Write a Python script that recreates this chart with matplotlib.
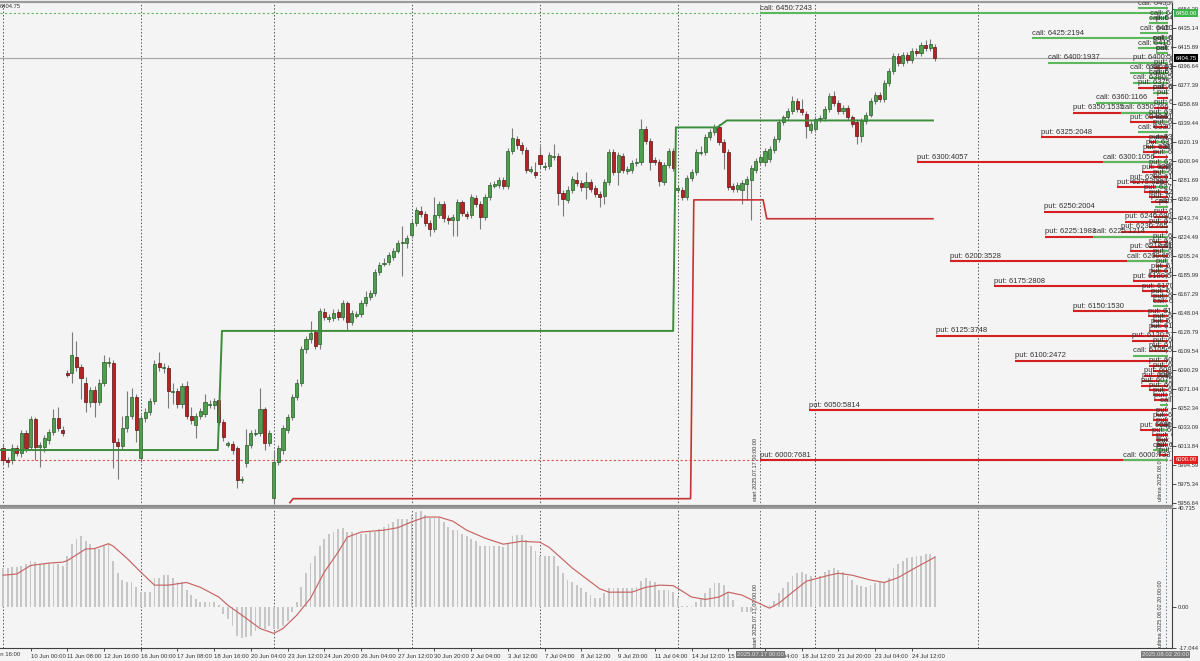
import matplotlib
matplotlib.use('Agg')
import matplotlib.pyplot as plt
import matplotlib.transforms as mtrans

plt.rcParams['font.family'] = ['Liberation Sans', 'DejaVu Sans']

# ---------------------------------------------------------------------------
# Data (4h candles, bar 0 = 9 Jun 00:00)
# ---------------------------------------------------------------------------
opens = [6012, 6000, 6000, 6012, 6007, 6027, 6013, 6041, 6014, 6013,
         6020, 6028, 6042, 6030, 6088, 6088, 6104, 6094, 6078, 6058,
         6070, 6058, 6078, 6098, 6098, 6018, 6014, 6032, 6044, 6063,
         6002, 6042, 6048, 6059, 6098, 6093, 6093, 6069, 6069, 6056,
         6074, 6044, 6035, 6044, 6046, 6056, 6055, 6060, 6038, 6016,
         6016, 6012, 5980, 5997, 6015, 6027, 6027, 6051, 6017, 5962,
         5998, 6010, 6030, 6043, 6063, 6078, 6112, 6122, 6129, 6117,
         6149, 6143, 6143, 6149, 6144, 6158, 6139, 6146, 6147, 6158,
         6164, 6168, 6189, 6198, 6199, 6204, 6211, 6219, 6219, 6227,
         6239, 6251, 6248, 6239, 6233, 6247, 6258, 6244, 6242, 6242,
         6260, 6248, 6247, 6264, 6258, 6245, 6265, 6277, 6277, 6282,
         6276, 6311, 6323, 6317, 6312, 6292, 6290, 6307, 6296, 6296,
         6306, 6306, 6269, 6262, 6272, 6282, 6279, 6275, 6280, 6274,
         6268, 6266, 6280, 6310, 6290, 6306, 6292, 6292, 6300, 6300,
         6333, 6321, 6302, 6300, 6280, 6297, 6311, 6273, 6272, 6265,
         6284, 6290, 6310, 6310, 6325, 6330, 6335, 6320, 6310, 6276,
         6273, 6272, 6278, 6282, 6292, 6300, 6300, 6303, 6312, 6323,
         6340, 6345, 6352, 6362, 6354, 6349, 6332, 6333, 6344, 6344,
         6354, 6367, 6360, 6352, 6355, 6345, 6340, 6326, 6341, 6348,
         6362, 6368, 6364, 6380, 6392, 6407, 6400, 6408, 6403, 6412,
         6410, 6418, 6415, 6416]
closes = [6000, 5998, 6012, 6007, 6027, 6012, 6041, 6013, 6015, 6022,
          6028, 6042, 6032, 6027, 6086, 6106, 6094, 6083, 6058, 6070,
          6058, 6078, 6099, 6098, 6018, 6014, 6032, 6044, 6063, 6030,
          6042, 6048, 6059, 6097, 6094, 6094, 6069, 6070, 6056, 6074,
          6044, 6040, 6044, 6049, 6058, 6056, 6059, 6038, 6023, 6016,
          6010, 5980, 5981, 6015, 6027, 6028, 6051, 6017, 6027, 5998,
          6012, 6032, 6043, 6063, 6078, 6112, 6122, 6128, 6115, 6150,
          6144, 6144, 6148, 6144, 6158, 6139, 6148, 6147, 6158, 6164,
          6168, 6189, 6196, 6199, 6206, 6211, 6219, 6220, 6224, 6239,
          6252, 6248, 6239, 6233, 6247, 6258, 6244, 6242, 6245, 6260,
          6249, 6246, 6265, 6258, 6245, 6265, 6277, 6278, 6282, 6276,
          6311, 6324, 6317, 6312, 6292, 6293, 6287, 6298, 6296, 6307,
          6307, 6269, 6263, 6272, 6283, 6279, 6275, 6280, 6273, 6268,
          6265, 6280, 6310, 6290, 6307, 6292, 6292, 6299, 6300, 6333,
          6321, 6300, 6300, 6281, 6297, 6311, 6294, 6274, 6265, 6284,
          6290, 6310, 6311, 6325, 6330, 6335, 6320, 6310, 6275, 6273,
          6277, 6279, 6283, 6294, 6301, 6305, 6311, 6313, 6323, 6340,
          6345, 6352, 6362, 6354, 6351, 6336, 6338, 6343, 6344, 6354,
          6367, 6360, 6352, 6355, 6345, 6338, 6326, 6341, 6348, 6362,
          6368, 6364, 6380, 6392, 6407, 6400, 6408, 6403, 6412, 6410,
          6418, 6415, 6419, 6405]
highs = [6016, 6003, 6016, 6015, 6030, 6030, 6044, 6043, 6018, 6025,
         6031, 6051, 6053, 6034, 6091, 6129, 6120, 6097, 6084, 6073,
         6074, 6082, 6106, 6104, 6101, 6022, 6044, 6069, 6072, 6066,
         6045, 6052, 6062, 6101, 6109, 6098, 6096, 6078, 6072, 6078,
         6080, 6053, 6047, 6052, 6066, 6060, 6062, 6072, 6041, 6019,
         6019, 6014, 5984, 6031, 6030, 6031, 6072, 6053, 6030, 6010,
         6015, 6035, 6046, 6066, 6082, 6115, 6125, 6140, 6131, 6153,
         6153, 6147, 6152, 6152, 6161, 6160, 6151, 6150, 6161, 6170,
         6171, 6192, 6199, 6203, 6209, 6214, 6222, 6236, 6227, 6242,
         6255, 6256, 6251, 6242, 6265, 6261, 6261, 6247, 6248, 6263,
         6262, 6251, 6268, 6267, 6261, 6268, 6280, 6281, 6285, 6285,
         6314, 6334, 6326, 6320, 6315, 6296, 6300, 6316, 6300, 6310,
         6318, 6309, 6272, 6276, 6286, 6290, 6282, 6290, 6283, 6277,
         6271, 6283, 6313, 6313, 6310, 6309, 6296, 6302, 6304, 6343,
         6336, 6324, 6305, 6303, 6300, 6314, 6314, 6277, 6275, 6287,
         6293, 6313, 6316, 6328, 6333, 6338, 6338, 6323, 6313, 6279,
         6280, 6282, 6286, 6297, 6304, 6308, 6314, 6316, 6326, 6343,
         6348, 6355, 6367, 6365, 6364, 6352, 6341, 6346, 6348, 6357,
         6370, 6372, 6363, 6358, 6358, 6348, 6343, 6344, 6351, 6365,
         6371, 6371, 6383, 6395, 6410, 6410, 6411, 6411, 6415, 6415,
         6421, 6423, 6424, 6419]
lows = [5996, 5993, 5996, 6004, 6003, 6008, 6010, 6000, 5993, 6008,
        6016, 6025, 6029, 6024, 6084, 6078, 6090, 6061, 6048, 6053,
        6043, 6055, 6074, 6094, 5992, 5981, 6010, 6028, 6041, 6018,
        5998, 6038, 6045, 6056, 6090, 6088, 6052, 6056, 6052, 6052,
        6041, 6036, 6022, 6041, 6043, 6052, 6051, 6035, 6019, 6013,
        6006, 5972, 5977, 5993, 6012, 6024, 6024, 6010, 6014, 5956,
        5995, 6006, 6027, 6040, 6060, 6075, 6108, 6118, 6112, 6112,
        6141, 6139, 6140, 6141, 6141, 6131, 6136, 6143, 6144, 6155,
        6161, 6165, 6186, 6195, 6196, 6201, 6208, 6185, 6214, 6224,
        6236, 6245, 6236, 6226, 6230, 6244, 6240, 6238, 6226, 6226,
        6246, 6243, 6244, 6255, 6233, 6242, 6262, 6274, 6274, 6273,
        6273, 6308, 6313, 6308, 6289, 6289, 6284, 6294, 6292, 6293,
        6302, 6257, 6246, 6259, 6269, 6276, 6271, 6263, 6270, 6265,
        6255, 6258, 6277, 6287, 6277, 6289, 6288, 6289, 6296, 6297,
        6318, 6292, 6297, 6276, 6277, 6294, 6291, 6270, 6262, 6262,
        6281, 6287, 6307, 6307, 6322, 6327, 6317, 6293, 6272, 6270,
        6270, 6258, 6262, 6242, 6289, 6297, 6296, 6300, 6309, 6320,
        6337, 6342, 6349, 6351, 6348, 6324, 6329, 6330, 6340, 6341,
        6351, 6357, 6349, 6349, 6342, 6335, 6318, 6320, 6338, 6345,
        6359, 6361, 6361, 6377, 6389, 6397, 6397, 6400, 6400, 6407,
        6407, 6412, 6412, 6402]

macd_hist = [16, 16, 16.5, 16.5, 17, 17.5, 19, 18.5, 17.5, 17.5,
             18, 17.5, 17.5, 17, 21, 26, 28, 29, 27, 26,
             24, 24, 25, 26, 19, 14, 11, 10, 10, 8,
             6, 6, 6, 12, 12, 13, 13, 12, 10, 10,
             7, 5, 3, 2, 2, 2, 2, 0.5, -3, -5,
             -8, -12, -13, -12.6, -12, -10, -8.5, -9, -8, -9,
             -9, -8, -6, -2, 2, 8, 14, 18, 21, 25,
             28, 30, 31, 32, 32.5, 31, 31, 30, 30, 30,
             31, 31, 32, 33, 34, 35, 36, 36, 36, 38,
             39, 39.5, 38, 36.5, 36.5, 36.5, 35, 33, 31.5, 31.5,
             30, 29, 28, 27, 25, 25, 25, 25, 25, 24.5,
             26, 29, 29.5, 29.5, 27.5, 25, 23, 21, 21, 21,
             21, 17, 14, 11, 10, 9, 7.6, 6, 4.7, 3.5,
             3.5, 5.6, 7.6, 7.6, 7.6, 7.6, 7.6, 7.6, 8, 10.5,
             11.7, 10.5, 10, 7, 7, 7, 6, 3.5, 0.4, 0.3,
             0.4, 1.9, 3.5, 5.6, 7.7, 9.7, 9.7, 8.9, 6, 2.7,
             0, -2, -2.3, -2.3, -1.5, -0.3, 0.3, 0.5, 2.3, 5.6,
             7.7, 10, 12.6, 14, 14.3, 13.4, 12.6, 11.7, 12.6, 14.3,
             15, 15.8, 15, 14.3, 12.6, 11, 8.9, 8.7, 8, 8.9,
             9.7, 10, 10, 12, 16, 17.5, 19, 20, 20.4, 20.8,
             21, 21.7, 21.7, 20.8]

signal_idx = [0, 3, 6, 10, 13, 14, 18, 20, 23, 24, 27, 30, 33, 36, 40, 43, 47, 49, 53, 56,
              59, 61, 64, 67, 70, 73, 75, 78, 83, 86, 89, 92, 95, 98, 101, 105, 109, 113, 117, 119,
              124, 130, 132, 137, 140, 143, 146, 147, 150, 153, 156, 158, 161, 164, 167, 169, 172, 175, 180, 182,
              185, 189, 192, 195, 199, 203]
signal_val = [13, 13.5, 17, 18, 18.4, 19, 23.8, 24, 26, 25, 20, 14.3, 8.9, 8.9, 10, 8, 4, 0.6, -4.8, -9,
              -11, -9, -3.5, 3.5, 14.3, 22.5, 28.7, 30.8, 31.6, 32.6, 35, 37, 37, 35.3, 31.6, 28.3, 25.8, 27, 26.6, 24.5,
              16, 7.4, 6, 6, 8, 8.9, 8.7, 7.6, 4, 3, 4, 6, 4.8, 2, -0.6, 1.4, 6, 10.5, 13, 13.8,
              13, 11, 10, 12, 16.3, 20.4]

# call wall / put wall step lines
call_wall_idx = [-1, 46.8, 47.7, 146.0, 146.6, 155.6, 157.7, 202.6]
call_wall_val = [6010, 6010, 6130, 6130, 6335, 6335, 6342, 6342]
put_wall_idx = [62.5, 63.2, 149.8, 150.5, 165.6, 166.4, 202.6]
put_wall_val = [5957, 5961, 5961, 6262, 6262, 6243, 6243]

# open interest per strike
call_strikes = [6455, 6450, 6445, 6440, 6430, 6425, 6420, 6415, 6410, 6400,
                6390, 6385, 6380, 6370, 6360, 6350, 6340, 6330, 6320, 6310,
                6300, 6290, 6275, 6255, 6225, 6210, 6200, 6155, 6105, 6080,
                6055, 6030, 6010, 6000]
call_oi = [485, 7243, 290, 300, 450, 2194, 250, 485, 200, 1937,
           615, 300, 560, 250, 1166, 766, 200, 485, 200, 150,
           1056, 150, 200, 210, 1214, 150, 659, 240, 560, 150,
           130, 150, 250, 733]
put_strikes = [6440, 6430, 6420, 6410, 6400, 6395, 6390, 6385, 6375, 6370,
               6365, 6355, 6350, 6345, 6340, 6335, 6325, 6320, 6315, 6310,
               6305, 6300, 6295, 6290, 6285, 6280, 6275, 6270, 6265, 6260,
               6255, 6250, 6245, 6240, 6235, 6230, 6225, 6220, 6215, 6210,
               6205, 6200, 6195, 6190, 6185, 6180, 6175, 6170, 6165, 6160,
               6150, 6145, 6140, 6135, 6130, 6125, 6120, 6115, 6110, 6100,
               6095, 6090, 6085, 6080, 6075, 6070, 6065, 6060, 6050, 6045,
               6040, 6035, 6030, 6025, 6020, 6015, 6010, 6005, 6000]
put_oi = [200, 180, 250, 200, 560, 220, 300, 200, 480, 250,
          180, 220, 1535, 300, 615, 250, 2048, 300, 350, 400,
          250, 4057, 300, 420, 250, 610, 820, 380, 300, 280,
          150, 2004, 220, 690, 300, 765, 1983, 250, 300, 615,
          250, 3528, 200, 280, 300, 560, 2808, 420, 280, 250,
          1530, 320, 250, 280, 300, 3748, 578, 250, 300, 2472,
          300, 250, 380, 420, 430, 300, 250, 220, 5814, 200,
          250, 200, 450, 260, 200, 180, 200, 150, 7681]

price_ticks = [6454.39, 6435.14, 6415.89, 6396.64, 6377.39, 6358.69, 6339.44, 6320.19,
               6300.94, 6281.69, 6262.99, 6243.74, 6224.49, 6205.24, 6185.99, 6167.29,
               6148.04, 6128.79, 6109.54, 6090.29, 6071.04, 6052.34, 6033.09, 6013.84,
               5994.59, 5975.34, 5956.64]
time_labels = ['10 Jun 00:00', '11 Jun 08:00', '12 Jun 16:00', '16 Jun 00:00', '17 Jun 08:00',
               '18 Jun 16:00', '20 Jun 04:00', '23 Jun 12:00', '24 Jun 20:00', '26 Jun 04:00',
               '27 Jun 12:00', '30 Jun 20:00', '2 Jul 04:00', '3 Jul 12:00', '7 Jul 04:00',
               '8 Jul 12:00', '9 Jul 20:00', '11 Jul 04:00', '14 Jul 12:00', '15 Jul 20:00',
               '17 Jul 04:00', '18 Jul 12:00', '21 Jul 20:00', '23 Jul 04:00', '24 Jul 12:00']
time_idx = [6 + 8 * k for k in range(len(time_labels))]
week_starts = [0, 30, 59, 89, 117, 147, 177, 212.5]

last_price = 6404.75
start_bar = 165      # 2025.07.17 00:00
ultima_bar = 253.3   # 2025.08.02 20:00

# ---------------------------------------------------------------------------
BG = '#f4f4f4'
DOT = (0, (1.5, 2))
fig = plt.figure(figsize=(12, 6.61), dpi=100, facecolor=BG)
ax = fig.add_axes([0, 155 / 661, 1172 / 1200, 504 / 661], facecolor=BG)
ax2 = fig.add_axes([0, 13 / 661, 1172 / 1200, 140 / 661], facecolor=BG)

xlim = (-0.654, 254.68)
for a in (ax, ax2):
    a.set_xlim(*xlim)
    for w in week_starts:
        a.axvline(w, color='#555555', lw=0.7, ls=DOT, zorder=1)
    a.axvline(start_bar, color='#666666', lw=0.7, ls=DOT, zorder=1)
    a.axvline(ultima_bar, color='#6a7a9a', lw=0.7, ls=DOT, zorder=1)
ax.set_ylim(5953.62, 6461.33)
ax2.set_ylim(-17.044, 40.735)

# candles
idx = list(range(len(closes)))
ax.vlines(idx, lows, highs, color='#7a7a7a', lw=0.8, zorder=2)
heights, bottoms, fcs, ecs = [], [], [], []
for o, c in zip(opens, closes):
    h = abs(c - o)
    heights.append(max(h, 1.2))
    bottoms.append(min(o, c) if h >= 1.2 else o - 0.6)
    fcs.append('#4e9e4e' if c >= o else '#b82222')
    ecs.append('#285c28' if c >= o else '#5c1212')
ax.bar(idx, heights, bottom=bottoms, width=0.68, color=fcs, edgecolor=ecs, lw=0.5, zorder=3)

# reference lines
ax.axhline(last_price, color='#a8a8a8', lw=0.9, zorder=1.5)
ax.axhline(6450, color='#5cb85c', lw=0.8, ls=(0, (2, 2)), zorder=1.5)
ax.axhline(6000, color='#e05050', lw=0.8, ls=(0, (2, 2)), zorder=1.5)

# walls
ax.plot(call_wall_idx, call_wall_val, color='#3c8c3c', lw=1.4, zorder=3.5)
ax.plot(put_wall_idx, put_wall_val, color='#c83232', lw=1.2, zorder=3.5)

# open-interest levels
line_end = 253.8
oi_scale = 0.0618 / 4.59
label_tr = mtrans.offset_copy(ax.transData, fig=fig, x=0, y=1.0, units='points')


def draw_levels(strikes, ois, kind, color):
    for s, n in zip(strikes, ois):
        x0 = max(line_end - n * oi_scale, start_bar)
        ax.hlines(s, x0, line_end, color=color, lw=1.5, zorder=4)
        ax.text(x0, s, f'{kind}: {s}:{n}', transform=label_tr, fontsize=5.5,
                color='#333333', ha='left', va='bottom', clip_on=True, zorder=5)


draw_levels(put_strikes, put_oi, 'put', '#d42020')
draw_levels(call_strikes, call_oi, 'call', '#5cb85c')

# right price axis
ax.yaxis.tick_right()
ax.set_yticks(price_ticks)
ax.set_yticklabels([f'{p:.2f}' for p in price_ticks])
ax.tick_params(axis='y', direction='out', length=3, width=0.6, pad=1.5,
               labelsize=4.2, colors='#333333')
ax.set_xticks([])
yb = mtrans.blended_transform_factory(ax.transAxes, ax.transData)
for val, fc in [(6450, '#3cb44b'), (last_price, '#000000'), (6000, '#e02020')]:
    ax.text(1.003, val, f'{val:.2f}', transform=yb, fontsize=4.2, color='white',
            ha='left', va='center', clip_on=False, zorder=10,
            bbox=dict(boxstyle='square,pad=0.25', fc=fc, ec='none'))
ax.text(0.0, 0.997, f'{last_price:.2f}', transform=ax.transAxes, fontsize=4.2,
        color='#333333', ha='left', va='top')

for a in (ax, ax2):
    a.spines['left'].set_visible(False)
    a.spines['right'].set_color('#404040')
    a.spines['right'].set_linewidth(0.8)
ax.spines['top'].set_color('#9a9a9a')
ax.spines['top'].set_linewidth(1.6)
ax.spines['bottom'].set_color('#8c8c8c')
ax.spines['bottom'].set_linewidth(1.6)
ax2.spines['top'].set_color('#8c8c8c')
ax2.spines['top'].set_linewidth(1.2)
ax2.spines['bottom'].set_color('#404040')
ax2.spines['bottom'].set_linewidth(0.8)

# vertical marker texts
xb = mtrans.blended_transform_factory(ax.transData, ax.transAxes)
xb2 = mtrans.blended_transform_factory(ax2.transData, ax2.transAxes)
for ax_, tr in ((ax, xb), (ax2, xb2)):
    ax_.text(start_bar - 0.5, 0.01, 'start 2025.07.17 00:00:00', transform=tr, rotation=90,
             fontsize=4, color='#333333', ha='right', va='bottom')
    ax_.text(ultima_bar - 0.5, 0.01, 'ultima 2025.08.02 20:00:00', transform=tr, rotation=90,
             fontsize=4, color='#333333', ha='right', va='bottom')

# MACD panel
ax2.bar(idx, macd_hist, width=0.4, color='#c6c6c6', zorder=2)
ax2.plot(signal_idx, signal_val, color='#c86464', lw=0.85, zorder=3)
ax2.yaxis.tick_right()
ax2.set_yticks([40.735, 0, -17.044])
ax2.set_yticklabels(['40.735', '0.00', '-17.044'])
ax2.tick_params(axis='y', direction='out', length=3, width=0.6, pad=1.5,
                labelsize=4.2, colors='#333333')
ax2.set_xticks(time_idx)
ax2.set_xticklabels(time_labels, ha='left')
ax2.tick_params(axis='x', direction='out', length=2.5, width=0.6, pad=1.5,
                labelsize=4.3, colors='#333333')
ax2.text(-3, -0.03, '6 Jun 16:00', transform=xb2, fontsize=4.3, color='#333333',
         ha='left', va='top', clip_on=False)
for bar_pos, txt in [(start_bar, '2025.07.17 00:00'), (ultima_bar, '2025.08.02 20:00')]:
    ax2.text(bar_pos, -0.03, txt, transform=xb2, fontsize=4.3, color='#e6e6e6',
             ha='center', va='top', clip_on=False, zorder=10,
             bbox=dict(boxstyle='square,pad=0.2', fc='#7a7a7a', ec='none'))

fig.savefig('out.png', dpi=100, facecolor=BG)
